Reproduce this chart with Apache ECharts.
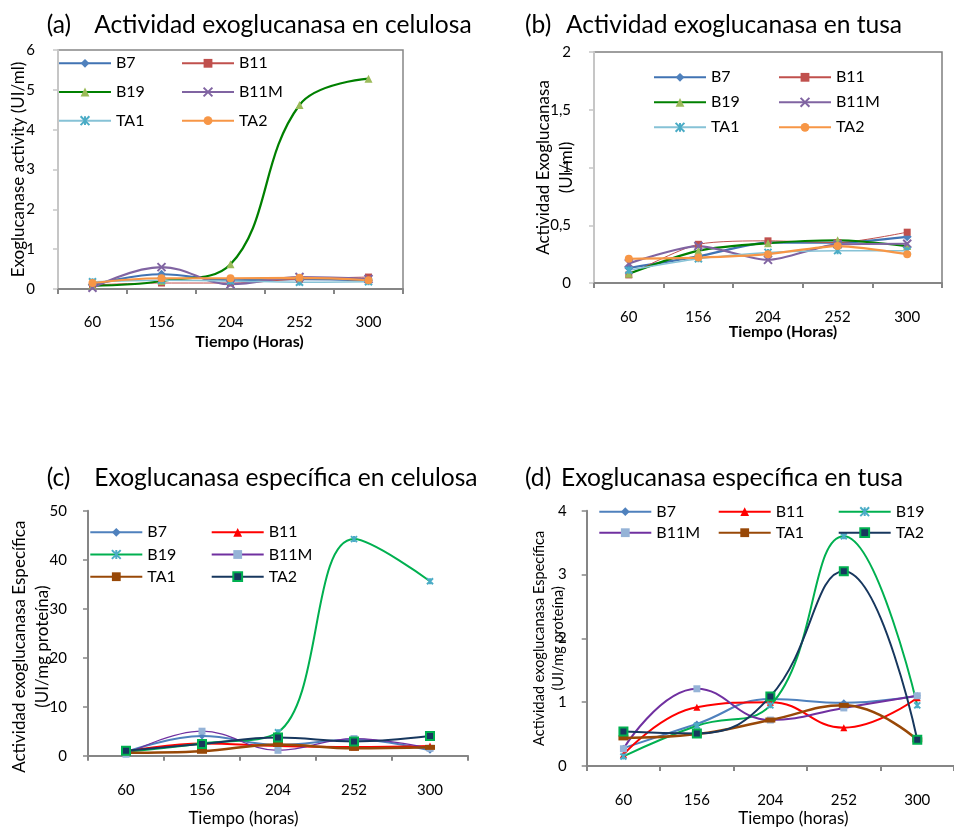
<!DOCTYPE html>
<html>
<head>
<meta charset="utf-8">
<script src="https://cdn.jsdelivr.net/npm/echarts@6/dist/echarts.min.js"></script>
<style>
  html, body { margin: 0; padding: 0; background: #ffffff; }
  #chart { width: 954px; height: 829px; }
</style>
</head>
<body>
<div id="chart"></div>
<script>
// Tiempo de cultivo (horas) y cepas
const hours = ['60', '156', '204', '252', '300'];
const strains = ['B7', 'B11', 'B19', 'B11M', 'TA1', 'TA2'];

// (a) Actividad exoglucanasa en celulosa (UI/ml)
const celB7   = [0.10, 0.37, 0.22, 0.25, 0.22];
const celB11  = [0.10, 0.15, 0.15, 0.25, 0.30];
const celB19  = [0.08, 0.20, 0.62, 4.62, 5.28];
const celB11M = [0.03, 0.55, 0.12, 0.30, 0.25];
const celTA1  = [0.18, 0.22, 0.20, 0.17, 0.18];
const celTA2  = [0.15, 0.27, 0.27, 0.28, 0.22];

// (b) Actividad exoglucanasa en tusa (UI/ml)
const tusB7   = [0.13, 0.23, 0.35, 0.35, 0.40];
const tusB11  = [0.07, 0.335, 0.365, 0.35, 0.44];
const tusB19  = [0.08, 0.28, 0.345, 0.37, 0.32];
const tusB11M = [0.17, 0.32, 0.20, 0.335, 0.34];
const tusTA1  = [0.11, 0.21, 0.265, 0.28, 0.28];
const tusTA2  = [0.21, 0.22, 0.25, 0.32, 0.25];

// (c) Exoglucanasa específica en celulosa (UI/mg proteína)
const espCelB7   = [0.8, 4.0, 2.2, 3.3, 1.1];
const espCelB11  = [0.8, 2.5, 2.0, 1.8, 2.0];
const espCelB19  = [0.8, 2.5, 4.8, 44.2, 35.6];
const espCelB11M = [0.3, 5.0, 1.1, 3.5, 1.5];
const espCelTA1  = [0.6, 0.9, 2.3, 1.5, 1.7];
const espCelTA2  = [1.0, 2.4, 3.7, 2.9, 4.0];

// (d) Exoglucanasa específica en tusa (UI/mg proteína)
const espTusB7   = [0.28, 0.66, 1.05, 0.99, 1.10];
const espTusB11  = [0.18, 0.92, 1.00, 0.60, 1.07];
const espTusB19  = [0.15, 0.63, 0.95, 3.60, 0.95];
const espTusB11M = [0.27, 1.21, 0.72, 0.91, 1.10];
const espTusTA1  = [0.44, 0.50, 0.72, 0.95, 0.41];
const espTusTA2  = [0.54, 0.51, 1.09, 3.05, 0.41];

const FONT = 'Lato';
const X_MARK = 'path://M0,0L10,10M10,0L0,10';
const STAR_MARK = 'path://M0,0L10,10M10,0L0,10M5,0L5,10';

// Marker / line styles per strain for the activity panels (a, b)
const styleAct = {
  B7:   { line: '#4173B3', w: 2.2, symbol: 'diamond', size: 9, fill: '#4F81BD' },
  B11:  { line: '#C0504D', w: 1,   symbol: 'rect',    size: 7, fill: '#C0504D' },
  B19:  { line: '#008000', w: 2.2, symbol: 'triangle', size: 8, fill: '#9BBB59' },
  B11M: { line: '#8064A2', w: 2.2, symbol: X_MARK,    size: 8, fill: '#8064A2', stroke: '#8064A2', sw: 2 },
  TA1:  { line: '#86C2D6', w: 1.5, symbol: STAR_MARK, size: 7, fill: '#4BACC6', stroke: '#4BACC6', sw: 2 },
  TA2:  { line: '#F79646', w: 2.2, symbol: 'circle',  size: 8, fill: '#F79646' }
};
// Styles for the specific activity panels (c, d)
const styleEsp = {
  B7:   { line: '#4F81BD', w: 2,   symbol: 'diamond', size: 7, fill: '#4F81BD' },
  B11:  { line: '#FF0000', w: 2,   symbol: 'triangle', size: 7, fill: '#FF0000' },
  B19:  { line: '#00B050', w: 2,   symbol: STAR_MARK, size: 6, fill: '#4BACC6', stroke: '#4BACC6', sw: 2 },
  B11M: { line: '#7030A0', w: 1.2, symbol: 'rect',    size: 7, fill: '#95B3D7' },
  TA1:  { line: '#984807', w: 2.5, symbol: 'rect',    size: [10, 5], fill: '#984807' },
  TA2:  { line: '#17375E', w: 2,   symbol: 'rect',    size: 8, fill: '#17375E', stroke: '#00B050', sw: 2 }
};

const panels = [
  { key: 'a', style: styleAct, smooth: 0.4, data: [celB7, celB11, celB19, celB11M, celTA1, celTA2] },
  { key: 'b', style: styleAct, smooth: 0.25, data: [tusB7, tusB11, tusB19, tusB11M, tusTA1, tusTA2] },
  { key: 'c', style: styleEsp, smooth: 0.4, data: [espCelB7, espCelB11, espCelB19, espCelB11M, espCelTA1, espCelTA2] },
  { key: 'd', style: styleEsp, smooth: 0.45, data: [espTusB7, espTusB11, espTusB19, espTusB11M, espTusTA1, espTusTA2] }
];

const seriesName = (s, k) => s + ' ' + k;

const series = [];
panels.forEach((p, gi) => {
  strains.forEach((s, si) => {
    const st = p.style[s];
    const lw = (p.key === 'd' && s === 'B11M') ? 2 : st.w;
    series.push({
      type: 'line',
      name: seriesName(s, p.key),
      xAxisIndex: gi,
      yAxisIndex: gi,
      data: p.data[si],
      smooth: p.smooth,
      symbol: st.symbol,
      symbolSize: st.size,
      showSymbol: true,
      lineStyle: { color: st.line, width: lw },
      itemStyle: {
        color: st.fill,
        borderColor: st.stroke || st.fill,
        borderWidth: st.sw || 0
      },
      emphasis: { disabled: true },
      animation: false
    });
  });
});

function legendCol(key, names, left, top, gap) {
  return {
    orient: 'vertical',
    left: left,
    top: top,
    padding: 0,
    itemGap: gap,
    itemWidth: 52,
    itemHeight: 11,
    selectedMode: false,
    data: names.map(n => seriesName(n, key)),
    formatter: n => n.split(' ')[0],
    textStyle: { fontFamily: FONT, fontSize: 16, color: '#000', lineHeight: 16 }
  };
}

const legends = [
  legendCol('a', ['B7', 'B19', 'TA1'], 58, 55.3, 12.7),
  legendCol('a', ['B11', 'B11M', 'TA2'], 181, 55.3, 12.7),
  legendCol('b', ['B7', 'B19', 'TA1'], 653, 69.3, 9),
  legendCol('b', ['B11', 'B11M', 'TA2'], 778, 69.3, 9),
  legendCol('c', ['B7', 'B19', 'TA1'], 89.3, 524.3, 6.2),
  legendCol('c', ['B11', 'B11M', 'TA2'], 210.7, 524.3, 6.2),
  legendCol('d', ['B7', 'B11M'], 598.3, 503.7, 5),
  legendCol('d', ['B11', 'TA1'], 717.7, 503.7, 5),
  legendCol('d', ['B19', 'TA2'], 837.7, 503.7, 5)
];

function panelTitle(left, top, tag, tagWidth, text) {
  const base = { fontFamily: FONT, fontSize: 24.6, fontWeight: 'normal', color: '#000', lineHeight: 30 };
  return {
    left: left,
    top: top,
    padding: 0,
    text: '{p|' + tag + '}{t|' + text + '}',
    textStyle: {
      fontWeight: 'normal',
      rich: {
        p: Object.assign({ width: tagWidth }, base),
        t: base
      }
    }
  };
}

const titles = [
  panelTitle(46.7, 10, '(a)', 47.6, 'Actividad exoglucanasa en celulosa'),
  panelTitle(525, 10, '(b)', 41, 'Actividad exoglucanasa en tusa'),
  panelTitle(46.7, 463, '(c)', 47.6, 'Exoglucanasa específica en celulosa'),
  panelTitle(525, 463, '(d)', 36, 'Exoglucanasa específica en tusa')
];

const grids = [
  { left: 58, top: 50, width: 345, height: 239, show: true, borderColor: '#868686', borderWidth: 1.5, backgroundColor: 'transparent' },
  { left: 594, top: 52, width: 348, height: 231, show: true, borderColor: '#7f7f7f', borderWidth: 1.5, backgroundColor: 'transparent' },
  { left: 88, top: 510.7, width: 380, height: 245 },
  { left: 586.7, top: 510.7, width: 372, height: 256 }
];

const AXIS_GRAY = '#868686';
const LIGHT_GRAY = '#c6c6c6';

function xAxisFor(gi, name, gap, bold, padLeft, padRight, labelMargin) {
  return {
    type: 'category',
    gridIndex: gi,
    data: hours,
    boundaryGap: true,
    axisLine: { show: true, lineStyle: { color: AXIS_GRAY, width: 2 } },
    axisTick: { show: true, length: 5, lineStyle: { color: AXIS_GRAY, width: 2 } },
    axisLabel: { margin: labelMargin, fontFamily: FONT, fontSize: 15, color: '#000' },
    splitLine: { show: false },
    name: name,
    nameLocation: 'middle',
    nameGap: gap,
    nameMoveOverlap: false,
    nameTextStyle: {
      fontFamily: FONT, fontSize: bold ? 16 : 17, fontWeight: bold ? 'bold' : 'normal',
      color: '#000', lineHeight: 18, padding: [0, padRight, 0, padLeft]
    }
  };
}

function yAxisFor(gi, max, interval, name, gap, fontSize, lineHeight, lineColor, labelMargin, padRight, fmt) {
  return {
    type: 'value',
    gridIndex: gi,
    min: 0,
    max: max,
    interval: interval,
    splitLine: { show: false },
    axisLine: { show: true, lineStyle: { color: lineColor, width: 2 } },
    axisTick: { show: true, length: 5, lineStyle: { color: lineColor, width: 1.5 } },
    axisLabel: { margin: labelMargin, fontFamily: FONT, fontSize: 15, color: '#000', formatter: fmt },
    name: name,
    nameLocation: 'middle',
    nameGap: gap,
    nameMoveOverlap: false,
    nameTextStyle: {
      fontFamily: FONT, fontSize: fontSize, color: '#000', lineHeight: lineHeight,
      padding: [0, padRight, 0, 0]
    }
  };
}

const commaFmt = v => String(v).replace('.', ',');

const option = {
  backgroundColor: '#ffffff',
  animation: false,
  title: titles,
  legend: legends,
  grid: grids,
  xAxis: [
    xAxisFor(0, 'Tiempo (Horas)', 44, true, 38, 0, 26),
    xAxisFor(1, 'Tiempo (Horas)', 40, true, 30, 0, 27),
    xAxisFor(2, 'Tiempo (horas)', 54, false, 0, 69, 27),
    xAxisFor(3, 'Tiempo (horas)', 44, false, 46, 0, 27)
  ],
  yAxis: [
    yAxisFor(0, 6, 1, 'Exoglucanase activity (UI/ml)', 29.5, 17, 20, LIGHT_GRAY, 23, 0),
    yAxisFor(1, 2, 0.5, 'Actividad Exoglucanasa\n(UI/ml)', 16, 17, 23, LIGHT_GRAY, 23, 0, commaFmt),
    yAxisFor(2, 50, 10, 'Actividad exoglucanasa Específica\n(UI/mg proteína)', 34.5, 17, 22.5, AXIS_GRAY, 21, 27),
    yAxisFor(3, 4, 1, 'Actividad exoglucanasa Específica\n(UI/mg proteína)', 19, 14.5, 19, AXIS_GRAY, 20, 0)
  ],
  series: series
};

const chart = echarts.init(document.getElementById('chart'), null, { renderer: 'canvas' });
chart.setOption(option);
</script>
</body>
</html>
